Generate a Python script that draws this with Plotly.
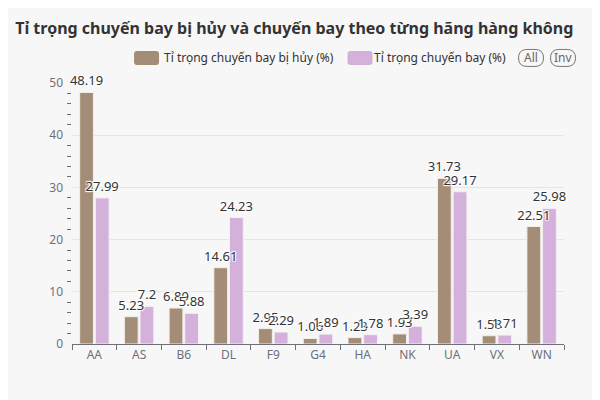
import plotly.graph_objects as go

airlines = ["AA", "AS", "B6", "DL", "F9", "G4", "HA", "NK", "UA", "VX", "WN"]
cancelled_share = [48.19, 5.23, 6.89, 14.61, 2.95, 1.06, 1.23, 1.93, 31.73, 1.58, 22.51]
flight_share = [27.99, 7.2, 5.88, 24.23, 2.29, 1.89, 1.78, 3.39, 29.17, 1.71, 25.98]

BROWN = "#a38d76"
LILAC = "#d4b1da"
FONT = "Noto Sans, DejaVu Sans, sans-serif"
label_font = dict(size=13, color="#333", family=FONT,
                  shadow="1px 1px 1px #fff, -1px -1px 1px #fff, 1px -1px 1px #fff, -1px 1px 1px #fff")

series = [
    ("Tỉ trọng chuyến bay bị hủy (%)", cancelled_share, BROWN, "#f3efe9", "a"),
    ("Tỉ trọng chuyến bay (%)", flight_share, LILAC, "#f5eef6", "b"),
]

fig = go.Figure()
for name, values, color, edge, group in series:
    fig.add_trace(go.Bar(
        x=airlines, y=values, name=name, offsetgroup=group, showlegend=False,
        marker=dict(color=color, line=dict(color=edge, width=1)),
    ))
# transparent copies carry the labels so they sit above every bar
for name, values, color, edge, group in series:
    fig.add_trace(go.Bar(
        x=airlines, y=values, name=name, offsetgroup=group, showlegend=False,
        marker=dict(color="rgba(0,0,0,0)", line=dict(width=0)), hoverinfo="skip",
        text=[f"{v:g}" for v in values], textposition="outside",
        textfont=label_font, cliponaxis=False, constraintext="none",
    ))

# page body adds 8px offset, so margins are shifted accordingly
fig.update_layout(
    width=600, height=400,
    margin=dict(l=64, r=44, t=75, b=64, autoexpand=False),
    paper_bgcolor="#f7f7f8", plot_bgcolor="#f7f7f8",
    font=dict(family=FONT, size=12, color="#6e7079"),
    barmode="group", bargap=0.3, bargroupgap=0.12,
    title=dict(text="<b>Tỉ trọng chuyến bay bị hủy và chuyến bay theo từng hãng hàng không</b>",
               x=0.012, xanchor="left", y=0.95, yanchor="middle",
               font=dict(size=16, color="#333", family=FONT)),
    xaxis=dict(showline=True, linecolor="#6e7079", ticks="outside", tickson="boundaries",
               ticklen=5, tickcolor="#6e7079", showgrid=False,
               tickfont=dict(size=12, color="#6e7079")),
    yaxis=dict(range=[0, 50], dtick=10, showline=False, gridcolor="#e0e6f1",
               zeroline=False, ticks="", ticklabelstandoff=8,
               minor=dict(dtick=2, ticks="outside", ticklen=4, tickcolor="#6e7079", showgrid=False),
               tickfont=dict(size=12, color="#6e7079")),
)

# legend drawn by hand: wide rounded swatches like the original
LEG_Y = 1.096
swatch = ("M -9.5,-7 L 9.5,-7 Q 12.5,-7 12.5,-4 L 12.5,4 Q 12.5,7 9.5,7 "
          "L -9.5,7 Q -12.5,7 -12.5,4 L -12.5,-4 Q -12.5,-7 -9.5,-7 Z")
for (name, values, color, edge, group), sx, tx in zip(series, [0.1515, 0.5854], [0.5366, 0.886]):
    fig.add_shape(type="path", path=swatch, xref="paper", yref="paper",
                  xsizemode="pixel", ysizemode="pixel", xanchor=sx, yanchor=LEG_Y,
                  line=dict(width=0), fillcolor=color)
    fig.add_annotation(text=name, xref="paper", yref="paper", x=tx, y=LEG_Y,
                       xanchor="right", yanchor="middle", showarrow=False,
                       font=dict(size=12, color="#333"))

pill = ("M -4,-8.5 L 4,-8.5 Q 12.5,-8.5 12.5,0 Q 12.5,8.5 4,8.5 "
        "L -4,8.5 Q -12.5,8.5 -12.5,0 Q -12.5,-8.5 -4,-8.5 Z")
for label, xpos in [("All", 0.933), ("Inv", 0.998)]:
    fig.add_shape(type="path", path=pill, xref="paper", yref="paper",
                  xsizemode="pixel", ysizemode="pixel", xanchor=xpos, yanchor=LEG_Y,
                  line=dict(color="#777", width=1), fillcolor="rgba(0,0,0,0)")
    fig.add_annotation(text=label, xref="paper", yref="paper", x=xpos, y=LEG_Y,
                       xanchor="center", yanchor="middle",
                       showarrow=False, font=dict(size=12, color="#666"))

fig.write_html("out.html")
